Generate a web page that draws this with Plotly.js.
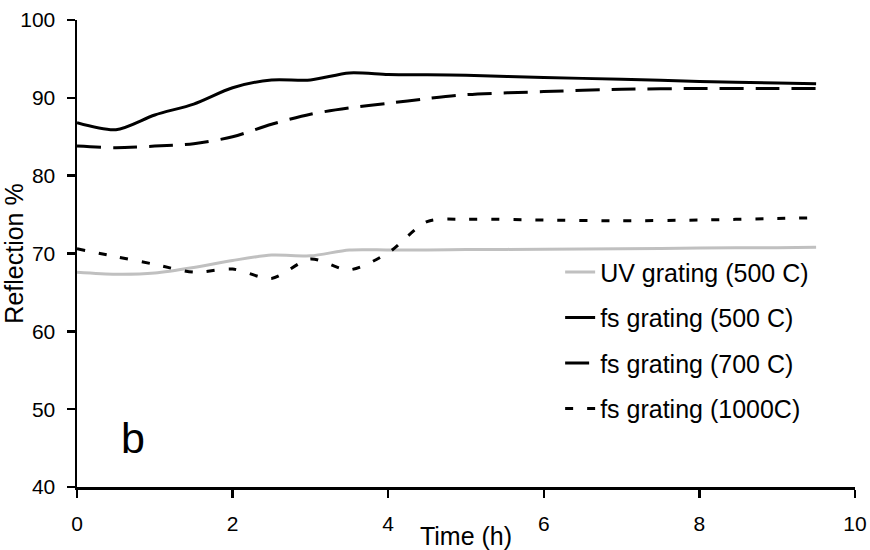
<!DOCTYPE html>
<html>
<head>
<meta charset="utf-8">
<script src="https://cdn.plot.ly/plotly-3.0.1.min.js"></script>
<style>html,body{margin:0;padding:0;background:#fff;}#chart{width:870px;height:550px;}</style>
</head>
<body>
<div id="chart"></div>
<script>
var timeH = [0, 0.5, 1, 1.5, 2, 2.5, 3, 3.5, 4, 4.5, 5, 6, 7, 8, 9, 9.5];
var uv500 = [67.6, 67.35, 67.5, 68.2, 69.1, 69.8, 69.7, 70.45, 70.45, 70.45, 70.5, 70.55, 70.6, 70.7, 70.75, 70.8];
var fs500 = [86.8, 85.9, 87.8, 89.2, 91.3, 92.3, 92.3, 93.2, 93.0, 92.95, 92.9, 92.6, 92.4, 92.1, 91.9, 91.8];
var fs700 = [83.8, 83.6, 83.8, 84.1, 85.0, 86.6, 87.9, 88.7, 89.3, 89.9, 90.4, 90.8, 91.1, 91.2, 91.2, 91.2];
var fs1000 = [70.6, 69.6, 68.6, 67.6, 68.0, 66.8, 69.3, 67.9, 70.1, 74.1, 74.4, 74.3, 74.2, 74.3, 74.5, 74.6];
var seriesNames = ["UV grating (500 C)", "fs grating (500 C)", "fs grating (700 C)", "fs grating (1000C)"];
var xTicks = [0, 2, 4, 6, 8, 10];
var yTicks = [40, 50, 60, 70, 80, 90, 100];

var FONT = "Liberation Sans, Arial, sans-serif";
function tr(y, name, color, dash, g) {
  return {x: timeH, y: y, name: name, type: "scatter", mode: "lines",
    line: {color: color, width: 3, dash: dash, shape: "spline", smoothing: 0.8},
    legendgroup: g, hoverinfo: "skip"};
}
var data = [
  tr(uv500, seriesNames[0], "#c0c0c0", "solid", "a"),
  tr(fs500, seriesNames[1], "#000000", "solid", "b"),
  tr(fs700, seriesNames[2], "#000000", "24px,12px", "c"),
  tr(fs1000, seriesNames[3], "#000000", "8px,14px", "d")
];
var layout = {
  width: 870, height: 550,
  margin: {l: 77, r: 15, t: 20, b: 63},
  paper_bgcolor: "#fff", plot_bgcolor: "#fff",
  font: {family: FONT, color: "#000", size: 21},
  showlegend: true,
  legend: {x: 0.621, y: 0.509, xanchor: "left", yanchor: "top",
    font: {family: FONT, size: 25, color: "#000"},
    bgcolor: "rgba(0,0,0,0)", tracegroupgap: 10, traceorder: "grouped"},
  xaxis: {range: [0, 10], tickvals: xTicks, ticktext: xTicks.map(String),
    showgrid: false, zeroline: false, showline: true, linecolor: "#000", linewidth: 2.5,
    ticks: "outside", ticklen: 8, tickwidth: 2.5, tickcolor: "#000",
    tickfont: {family: FONT, size: 21}, ticklabelstandoff: 8,
    title: {text: "Time (h)", font: {family: FONT, size: 25}, standoff: 0}},
  yaxis: {range: [40, 100], tickvals: yTicks, ticktext: yTicks.map(String),
    showgrid: false, zeroline: false, showline: true, linecolor: "#000", linewidth: 2.5,
    ticks: "outside", ticklen: 8, tickwidth: 2.5, tickcolor: "#000",
    tickfont: {family: FONT, size: 21}, ticklabelstandoff: 7,
    title: {text: "Reflection %", font: {family: FONT, size: 25}, standoff: 0}},
  annotations: [{x: 0.72, y: 46.3, xref: "x", yref: "y", text: "b", showarrow: false,
    xanchor: "center", yanchor: "middle", font: {family: FONT, size: 43, color: "#000"}}]
};
Plotly.newPlot("chart", data, layout, {staticPlot: true, displayModeBar: false});
</script>
</body>
</html>
